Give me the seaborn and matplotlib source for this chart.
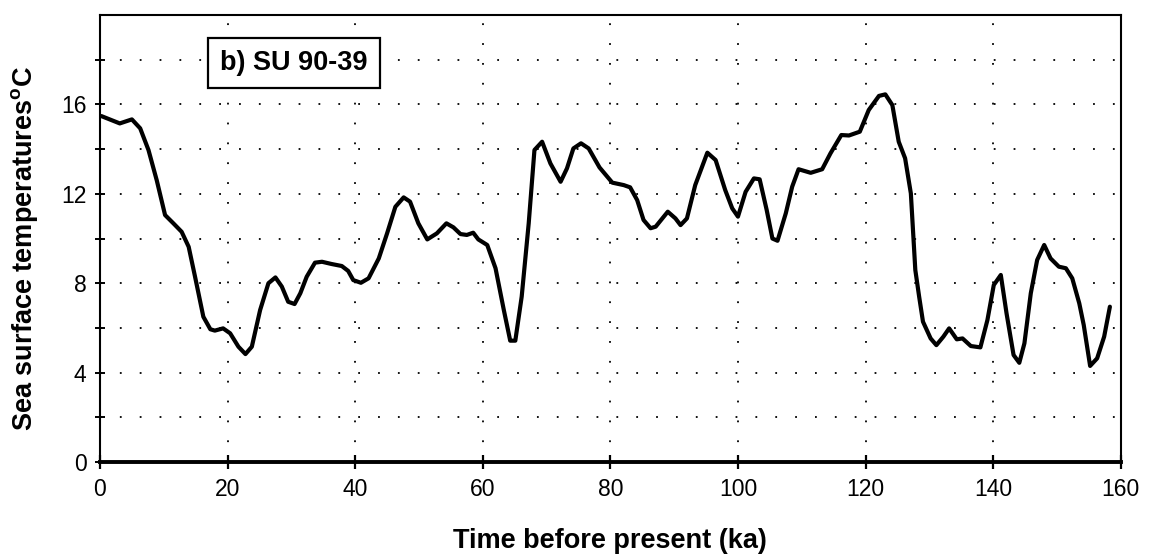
import numpy as np
import pandas as pd
import matplotlib
matplotlib.use("Agg")
import matplotlib.pyplot as plt
import seaborn as sns

# SU 90-39 sea surface temperature record
age_ka = [0.2, 3.1, 5.0, 6.3, 7.6, 8.9, 10.2, 11.5, 12.8, 13.9, 14.9, 16.2, 17.3, 18.0,
          19.3, 20.4, 21.7, 22.8, 23.8, 25.1, 26.4, 27.5, 28.5, 29.5, 30.5, 31.4, 32.4,
          33.7, 34.8, 36.3, 37.9, 38.9, 39.7, 40.9, 42.1, 43.7, 45.0, 46.3, 47.6, 48.6,
          49.9, 51.3, 52.8, 54.3, 55.4, 56.5, 57.5, 58.5, 59.3, 60.7, 62.0, 63.3, 64.3,
          65.1, 66.1, 67.2, 68.1, 69.3, 70.6, 72.2, 73.2, 74.2, 75.4, 76.6, 78.3, 80.3,
          82.1, 83.1, 84.2, 85.2, 86.3, 87.1, 89.0, 90.2, 91.0, 92.0, 93.3, 95.2, 96.5,
          98.0, 99.1, 100.0, 101.2, 102.5, 103.4, 104.5, 105.4, 106.2, 107.5, 108.5,
          109.5, 111.4, 113.2, 114.5, 116.2, 117.4, 119.1, 120.5, 122.1, 123.1, 124.2,
          125.2, 126.2, 127.1, 127.8, 128.4, 129.0, 130.2, 131.1, 132.2, 133.1, 134.3,
          135.2, 136.5, 138.0, 139.1, 140.1, 141.2, 142.1, 143.2, 144.1, 144.9, 145.9,
          146.9, 148.0, 149.0, 150.3, 151.4, 152.4, 153.5, 154.2, 155.2, 156.3, 157.4,
          158.3]
sst_c = [15.48, 15.15, 15.33, 14.93, 13.96, 12.6, 11.05, 10.68, 10.3, 9.63, 8.29, 6.5,
         5.94, 5.88, 5.98, 5.76, 5.16, 4.83, 5.16, 6.8, 8.0, 8.26, 7.85, 7.17, 7.07, 7.55,
         8.29, 8.92, 8.96, 8.86, 8.77, 8.55, 8.14, 8.02, 8.22, 9.11, 10.23, 11.42, 11.84,
         11.65, 10.68, 9.96, 10.23, 10.68, 10.5, 10.2, 10.16, 10.26, 9.96, 9.71, 8.67,
         6.8, 5.43, 5.43, 7.4, 10.68, 13.96, 14.33, 13.36, 12.54, 13.14, 14.03, 14.26,
         14.03, 13.18, 12.5, 12.39, 12.29, 11.72, 10.83, 10.46, 10.53, 11.2, 10.9, 10.6,
         10.9, 12.39, 13.84, 13.51, 12.17, 11.35, 10.98, 12.09, 12.69, 12.65, 11.28, 10.0,
         9.9, 11.13, 12.32, 13.1, 12.94, 13.1, 13.81, 14.63, 14.61, 14.78, 15.75, 16.38,
         16.45, 15.97, 14.33, 13.59, 12.02, 8.59, 7.4, 6.28, 5.53, 5.23, 5.61, 5.98, 5.49,
         5.53, 5.19, 5.13, 6.35, 7.92, 8.37, 6.65, 4.79, 4.44, 5.31, 7.55, 9.04, 9.71,
         9.11, 8.74, 8.67, 8.22, 7.1, 6.13, 4.3, 4.64, 5.61, 6.95]

x_ticks = [0, 20, 40, 60, 80, 100, 120, 140, 160]
y_ticks = [0, 4, 8, 12, 16]
y_minor = [2, 6, 10, 14, 18]
core_label = "b) SU 90-39"

df = pd.DataFrame({"age": age_ka, "sst": sst_c})

sns.set_theme(style="white")
plt.rcParams["font.family"] = ["Liberation Sans", "DejaVu Sans"]
plt.rcParams["mathtext.fontset"] = "custom"
plt.rcParams["mathtext.bf"] = "Liberation Sans:bold"
plt.rcParams["mathtext.rm"] = "Liberation Sans"
for key in ("text.color", "axes.labelcolor", "xtick.color", "ytick.color",
            "axes.edgecolor"):
    plt.rcParams[key] = "black"

fig = plt.figure(figsize=(11.56, 5.56), dpi=100)
ax = fig.add_axes([0.0865, 0.169, 0.883, 0.804])

# dotted reference grid
dot = (0, (1, 10))
for yv in y_minor + y_ticks[1:]:
    ax.axhline(yv, color="black", lw=1.3, ls=dot, zorder=1)
for xv in x_ticks[1:-1]:
    ax.axvline(xv, color="black", lw=1.3, ls=dot, zorder=1)

sns.lineplot(data=df, x="age", y="sst", ax=ax, color="black", lw=3.0,
             sort=False, estimator=None, zorder=3,
             solid_joinstyle="round", solid_capstyle="round")

ax.set_xlim(0, 160)
ax.set_ylim(0, 20)
ax.set_xticks(x_ticks)
ax.set_yticks(y_ticks)
ax.set_yticks(y_minor, minor=True)
ax.tick_params(axis="x", which="major", direction="inout", length=9.5, width=1.6,
               labelsize=16.5, pad=7, color="black", labelcolor="black", bottom=True)
ax.tick_params(axis="y", which="both", direction="inout", length=7.5, width=1.4,
               labelsize=16.5, pad=6, color="black", labelcolor="black", left=True)

for side, w in {"left": 1.5, "top": 1.5, "right": 1.5, "bottom": 2.8}.items():
    ax.spines[side].set_visible(True)
    ax.spines[side].set_color("black")
    ax.spines[side].set_linewidth(w)

ax.set_xlabel("Time before present (ka)", fontsize=19.5, fontweight="bold",
              color="black")
ax.set_ylabel(r"Sea surface temperatures$^{\mathbf{o}}$C", fontsize=19.5,
              fontweight="bold", color="black")
ax.xaxis.set_label_coords(0.5, -0.148)
ax.yaxis.set_label_coords(-0.059, 0.477)

ax.text(0.19, 0.893, core_label, transform=ax.transAxes, fontsize=19.5,
        fontweight="bold", ha="center", va="center", zorder=4, color="black",
        bbox=dict(boxstyle="square,pad=0.45", fc="white", ec="black", lw=1.6))

fig.savefig("out.png", dpi=100)
